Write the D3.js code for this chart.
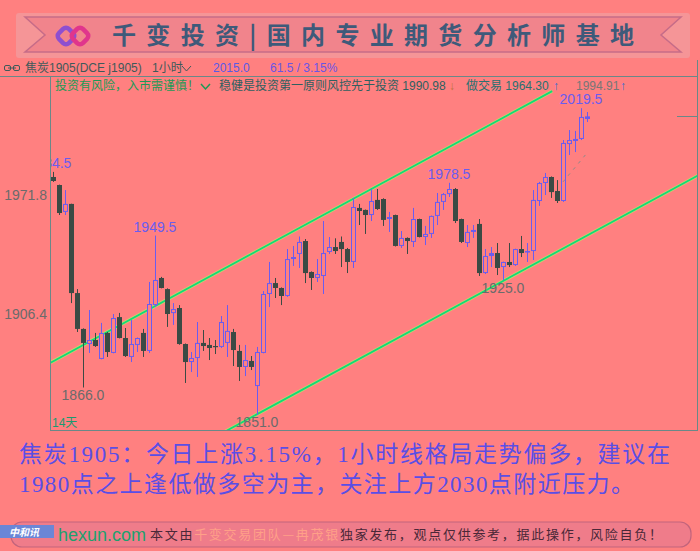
<!DOCTYPE html>
<html>
<head>
<meta charset="utf-8">
<script src="https://cdn.jsdelivr.net/npm/d3@7"></script>
<style>
html, body { margin: 0; padding: 0; background: #ff8080; }
svg { display: block; }
</style>
</head>
<body>
<svg id="chart"></svg>
<script>
// hourly candles, coke j1905
var opens = [1981.7, 1977.3, 1962.5, 1966.9, 1917.9, 1898.2, 1889.9, 1892.1, 1881.7, 1896.0,
  1885.0, 1904.7, 1893.2, 1882.8, 1889.4, 1896.0, 1886.1, 1911.3, 1926.2, 1920.1,
  1906.9, 1909.7, 1889.9, 1880.0, 1882.2, 1890.5, 1889.4, 1888.8, 1888.3, 1890.5,
  1896.5, 1886.1, 1877.3, 1880.6, 1866.8, 1885.0, 1917.4, 1923.4, 1920.7, 1916.3,
  1936.6, 1939.4, 1946.5, 1929.5, 1926.2, 1927.3, 1940.5, 1943.2, 1946.0, 1942.1,
  1935.0, 1964.7, 1963.6, 1960.8, 1969.1, 1969.6, 1958.6, 1960.8, 1943.8, 1948.2,
  1946.0, 1958.6, 1948.7, 1950.4, 1960.3, 1968.0, 1972.3, 1975.1, 1958.6, 1945.4,
  1951.5, 1955.9, 1928.9, 1938.3, 1939.9, 1932.2, 1935.0, 1933.3, 1942.1, 1940.5,
  1941.0, 1968.5, 1978.4, 1981.7, 1974.0, 1968.5, 1999.8, 2001.5, 2002.6, 2013.6];
var highs = [1984.5, 1977.5, 1974.5, 1967.0, 1920.1, 1898.5, 1908.6, 1896.0, 1901.5, 1896.5,
  1906.4, 1907.0, 1898.7, 1903.1, 1893.5, 1898.2, 1924.0, 1949.5, 1926.8, 1920.5,
  1912.4, 1911.3, 1890.2, 1885.5, 1902.0, 1897.6, 1893.2, 1892.1, 1905.3, 1911.3,
  1898.2, 1889.4, 1889.4, 1883.3, 1888.3, 1919.0, 1935.0, 1926.2, 1921.0, 1942.1,
  1943.8, 1949.0, 1947.6, 1929.8, 1936.6, 1957.5, 1948.7, 1948.0, 1949.0, 1942.7,
  1970.2, 1966.9, 1963.8, 1975.1, 1975.1, 1970.0, 1962.5, 1961.0, 1952.0, 1948.5,
  1964.7, 1958.8, 1954.8, 1960.5, 1972.9, 1972.9, 1978.5, 1975.6, 1958.8, 1955.3,
  1955.3, 1958.6, 1942.1, 1943.2, 1945.4, 1935.2, 1945.4, 1942.3, 1949.3, 1945.4,
  1974.5, 1979.0, 1983.9, 1982.0, 1980.0, 2002.0, 2007.5, 2007.0, 2019.5, 2017.4];
var lows = [1979.0, 1960.8, 1960.8, 1912.4, 1896.5, 1866.0, 1885.0, 1888.3, 1881.5, 1882.8,
  1884.8, 1893.0, 1882.8, 1880.0, 1885.5, 1882.8, 1885.0, 1910.2, 1920.5, 1899.3,
  1900.4, 1889.5, 1868.5, 1874.5, 1871.8, 1886.1, 1881.1, 1884.4, 1887.7, 1882.8,
  1877.8, 1869.6, 1872.3, 1875.6, 1851.0, 1884.8, 1910.2, 1915.2, 1911.3, 1915.8,
  1932.8, 1931.7, 1923.4, 1919.6, 1924.0, 1917.4, 1939.4, 1939.4, 1932.2, 1928.9,
  1931.7, 1955.3, 1950.4, 1957.5, 1963.6, 1954.8, 1951.5, 1943.5, 1942.7, 1939.4,
  1943.2, 1948.5, 1944.3, 1948.2, 1955.3, 1963.6, 1970.7, 1956.4, 1945.4, 1943.2,
  1948.2, 1927.3, 1928.4, 1932.2, 1927.8, 1925.0, 1932.2, 1932.8, 1937.7, 1935.0,
  1936.1, 1965.8, 1971.8, 1970.2, 1967.4, 1968.0, 1993.8, 1995.4, 2002.0, 2011.9];
var closes = [1979.5, 1961.9, 1966.9, 1917.9, 1898.2, 1890.5, 1892.1, 1888.8, 1896.0, 1885.5,
  1904.2, 1893.2, 1883.3, 1889.9, 1893.2, 1886.1, 1911.9, 1925.1, 1920.7, 1906.4,
  1909.1, 1889.9, 1880.0, 1882.2, 1890.5, 1888.8, 1887.7, 1888.8, 1902.0, 1897.1,
  1886.6, 1877.3, 1881.1, 1877.3, 1885.5, 1917.4, 1923.4, 1920.7, 1916.3, 1936.6,
  1937.7, 1946.0, 1928.9, 1926.2, 1928.4, 1939.9, 1943.2, 1941.0, 1942.1, 1935.0,
  1965.2, 1963.0, 1960.8, 1968.5, 1964.1, 1958.1, 1959.7, 1943.8, 1948.2, 1946.5,
  1958.6, 1948.7, 1950.4, 1960.3, 1968.0, 1972.3, 1975.1, 1957.5, 1946.0, 1951.5,
  1952.6, 1928.9, 1938.3, 1939.9, 1931.7, 1935.0, 1933.3, 1942.1, 1939.9, 1941.0,
  1969.1, 1978.4, 1981.7, 1973.4, 1968.5, 2000.4, 2002.0, 2002.6, 2014.7, 2015.0];

var yTicks = [1906.4, 1971.8];
var highMarks = [0, 17, 66, 88];   // candles with a high label
var lowMarks = [5, 34, 75];        // candles with a low label

// gray dashed indicator at the end
var maIdx = [85, 86, 87, 88, 89];
var maVals = [1979.0, 1983.0, 1986.9, 1990.9, 1994.91];

// channel lines, [candle index, price]
var chanUpper = [[-0.5, 1879.5], [83.2, 2028.9]];
var chanLower = [[20, 1826.3], [110, 1987.0]];

var lastPrice = 2015.0;
var header1 = ["焦炭1905(DCE j1905)", "1小时", "2015.0", "61.5 / 3.15%"];
var header2 = ["投资有风险，入市需谨慎！", "稳健是投资第一原则风控先于投资 1990.98", "做交易 1964.30", "1994.91"];
var bannerText = "千变投资|国内专业期货分析师基地";
var comment1 = "焦炭1905：今日上涨3.15%，1小时线格局走势偏多，建议在";
var comment2 = "1980点之上逢低做多空为主，关注上方2030点附近压力。";

var bg = "#ff8080",
    upColor = "#6a5cf0",
    downColor = "#3b4a44",
    frame = "#6a8888",
    cjk = "'Liberation Sans','Noto Sans CJK SC',sans-serif";

var svg = d3.select("#chart")
    .attr("width", 700)
    .attr("height", 551);

svg.append("rect").attr("width", 700).attr("height", 551).attr("fill", bg);

// ---- banner
var banner = svg.append("g");
banner.append("rect")
    .attr("x", 16).attr("y", 13).attr("width", 674).attr("height", 45)
    .attr("rx", 3)
    .attr("fill", "#f59597");
banner.append("polygon")
    .attr("points", "25,17 681,17 661,35 681,52 25,52 45,35")
    .attr("fill", "#f1848c")
    .attr("stroke", "#c66c88")
    .attr("stroke-width", 1.5);
[[66, "#8e4fd0"], [80, "#e0358c"]].forEach(function(d) {
  banner.append("rect")
      .attr("x", -7).attr("y", -7).attr("width", 14).attr("height", 14)
      .attr("rx", 4)
      .attr("transform", "translate(" + d[0] + ",36) rotate(45)")
      .attr("fill", "none")
      .attr("stroke", d[1])
      .attr("stroke-width", 4.5);
});
banner.append("text")
    .attr("x", 112).attr("y", 44)
    .attr("textLength", 522)
    .attr("lengthAdjust", "spacing")
    .style("font-family", "'Noto Sans CJK SC',sans-serif")
    .style("font-size", "24px")
    .style("font-weight", 700)
    .attr("fill", "#3e5a7a")
    .text(bannerText);

// ---- header rows
var head = svg.append("g").style("font-family", cjk).style("font-size", "12px");
head.append("rect").attr("x", 4.5).attr("y", 65.5).attr("width", 6).attr("height", 5).attr("rx", 1.5)
    .attr("fill", "none").attr("stroke", "#3e5a5a");
head.append("rect").attr("x", 13.5).attr("y", 65.5).attr("width", 6).attr("height", 5).attr("rx", 1.5)
    .attr("fill", "none").attr("stroke", "#3e5a5a");
head.append("line").attr("x1", 8).attr("x2", 16).attr("y1", 68).attr("y2", 68).attr("stroke", "#3e5a5a");

head.append("text").attr("x", 25).attr("y", 72).attr("fill", "#3e5a5a").text(header1[0]);
head.append("text").attr("x", 152).attr("y", 72).attr("fill", "#3e5a5a").text(header1[1]);
head.append("path").attr("d", "M182,66 L186.5,71 L191,66").attr("fill", "none").attr("stroke", "#3e5a5a");
head.append("text").attr("x", 213).attr("y", 72).attr("fill", "#5a5ae6").text(header1[2]);
head.append("text").attr("x", 270).attr("y", 72).attr("fill", "#6a55e6").text(header1[3]);

head.append("text").attr("x", 55).attr("y", 90).attr("fill", "#1c9a55").text(header2[0]);
head.append("path").attr("d", "M201,84 L205.5,89 L210,84").attr("fill", "none").attr("stroke", "#1c9a55").attr("stroke-width", 1.5);
head.append("text").attr("x", 219).attr("y", 90).attr("fill", "#2f6060").text(header2[1]);
head.append("text").attr("x", 449).attr("y", 90).attr("fill", "#c0703c").text("↓");
head.append("text").attr("x", 466).attr("y", 90).attr("fill", "#2a7070").text(header2[2]);
head.append("text").attr("x", 553).attr("y", 90).attr("fill", "#3a6ad0").text("↑");
head.append("text").attr("x", 576).attr("y", 90).attr("fill", "#777777").text(header2[3]);
head.append("text").attr("x", 620).attr("y", 90).attr("fill", "#3a6ad0").text("↑");

// ---- frame
svg.append("line").attr("x1", 0).attr("x2", 697).attr("y1", 76.5).attr("y2", 76.5).attr("stroke", frame);
svg.append("line").attr("x1", 50.5).attr("x2", 50.5).attr("y1", 76).attr("y2", 430).attr("stroke", frame);
svg.append("line").attr("x1", 50).attr("x2", 697).attr("y1", 430.5).attr("y2", 430.5).attr("stroke", frame);
svg.append("line").attr("x1", 697.5).attr("x2", 697.5).attr("y1", 60).attr("y2", 431).attr("stroke", frame);

// ---- scales
var x = d3.scaleLinear()
    .domain([0, 89])
    .range([53, 587]);
var y = d3.scaleLinear()
    .domain([1906.4, 1971.8])
    .range([314, 195]);

var yAxis = svg.append("g")
    .attr("transform", "translate(47,0)")
    .call(d3.axisLeft(y).tickValues(yTicks).tickSize(0).tickPadding(0).tickFormat(d3.format(".1f")));
yAxis.select(".domain").remove();
yAxis.selectAll("text")
    .attr("fill", "#6b6b6b")
    .style("font-family", "'Liberation Sans Narrow','Liberation Sans',sans-serif")
    .style("font-size", "14px");

svg.append("defs").append("clipPath").attr("id", "plot")
    .append("rect").attr("x", 51).attr("y", 77).attr("width", 646).attr("height", 353);

var plot = svg.append("g").attr("clip-path", "url(#plot)");

// channel
var chanLine = d3.line()
    .x(function(d) { return x(d[0]); })
    .y(function(d) { return y(d[1]); });
[chanUpper, chanLower].forEach(function(seg) {
  plot.append("path").attr("d", chanLine(seg))
      .attr("fill", "none").attr("stroke", "#c8d86a").attr("stroke-width", 3.2);
  plot.append("path").attr("d", chanLine(seg))
      .attr("fill", "none").attr("stroke", "#12d878").attr("stroke-width", 1.8);
});

// candles
var idx = d3.range(opens.length);
var candle = plot.selectAll(".candle")
    .data(idx)
    .enter().append("g")
    .attr("class", "candle");

candle.append("line")
    .attr("x1", function(i) { return x(i) + 0.5; })
    .attr("x2", function(i) { return x(i) + 0.5; })
    .attr("y1", function(i) { return y(highs[i]); })
    .attr("y2", function(i) { return y(lows[i]); })
    .attr("stroke", function(i) { return closes[i] > opens[i] ? upColor : downColor; })
    .attr("stroke-width", 1);

candle.append("rect")
    .attr("x", function(i) { return closes[i] > opens[i] ? x(i) - 1.5 : x(i) - 2; })
    .attr("width", function(i) { return closes[i] > opens[i] ? 4 : 5; })
    .attr("y", function(i) {
      return closes[i] > opens[i] ? y(closes[i]) + 0.5 : y(opens[i]);
    })
    .attr("height", function(i) {
      if (closes[i] > opens[i]) return Math.max(0.5, y(opens[i]) - y(closes[i]) - 1);
      return Math.max(1.2, y(closes[i]) - y(opens[i]));
    })
    .attr("fill", function(i) {
      if (closes[i] > opens[i]) return (y(opens[i]) - y(closes[i]) < 3) ? upColor : bg;
      return downColor;
    })
    .attr("stroke", function(i) { return closes[i] > opens[i] ? upColor : "none"; })
    .attr("stroke-width", 1);

// indicator
plot.append("path")
    .datum(maIdx)
    .attr("d", d3.line()
      .x(function(i) { return x(i); })
      .y(function(i, k) { return y(maVals[k]); }))
    .attr("fill", "none")
    .attr("stroke", "#8a8a8a")
    .attr("stroke-width", 1)
    .style("stroke-dasharray", "3, 5");

// high / low labels
var labelFont = "'Liberation Sans Narrow','Liberation Sans',sans-serif";
plot.selectAll(".hi")
    .data(highMarks)
    .enter().append("text")
    .attr("class", "hi")
    .attr("x", function(i) { return x(i) - (i === 0 ? 3 : 0); })
    .attr("y", function(i) { return y(highs[i]) - 4; })
    .attr("text-anchor", "middle")
    .attr("fill", upColor)
    .style("font-family", labelFont)
    .style("font-size", "14px")
    .text(function(i) { return highs[i].toFixed(1); });

plot.selectAll(".lo")
    .data(lowMarks)
    .enter().append("text")
    .attr("class", "lo")
    .attr("x", function(i) { return x(i); })
    .attr("y", function(i) { return y(lows[i]) + 12.5; })
    .attr("text-anchor", "middle")
    .attr("fill", "#6b6b6b")
    .style("font-family", labelFont)
    .style("font-size", "14px")
    .text(function(i) { return lows[i].toFixed(1); });

// current price tick on the right
svg.append("line")
    .attr("x1", 677).attr("x2", 697)
    .attr("y1", Math.round(y(lastPrice)) + 0.5).attr("y2", Math.round(y(lastPrice)) + 0.5)
    .attr("stroke", frame);

svg.append("text")
    .attr("x", 52).attr("y", 427)
    .attr("fill", "#1a9a70")
    .style("font-family", cjk)
    .style("font-size", "12px")
    .text("14天");

// ---- comment
var comment = svg.append("g")
    .attr("fill", "#5a4ee6")
    .style("font-family", "'Liberation Serif','Noto Sans CJK SC',serif")
    .style("font-size", "23px");
comment.append("text").attr("x", 19).attr("y", 462)
    .attr("textLength", 651).attr("lengthAdjust", "spacing").text(comment1);
comment.append("text").attr("x", 19).attr("y", 492)
    .attr("textLength", 615).attr("lengthAdjust", "spacing").text(comment2);

// ---- footer
svg.append("rect")
    .attr("x", 11).attr("y", 522).attr("width", 680).attr("height", 25).attr("rx", 11)
    .attr("fill", "#ef7c8a")
    .attr("stroke", "#c2647c")
    .attr("stroke-width", 1.2);

var note = svg.append("text")
    .attr("x", 150).attr("y", 539)
    .attr("textLength", 512).attr("lengthAdjust", "spacing")
    .style("font-family", "'Noto Sans CJK SC',sans-serif")
    .style("font-size", "13px")
    .attr("fill", "#4a2838");
note.append("tspan").text("本文由");
note.append("tspan").attr("fill", "#ffa088").text("千变交易团队—冉茂银");
note.append("tspan").text("独家发布，观点仅供参考，据此操作，风险自负！");

svg.append("rect").attr("x", 0).attr("y", 525).attr("width", 54).attr("height", 13).attr("fill", "#6b86d6");
svg.append("text").attr("x", 9).attr("y", 536)
    .attr("fill", "#ffffff")
    .style("font-family", "'Noto Sans CJK SC',sans-serif")
    .style("font-size", "10px").style("font-weight", 700).style("font-style", "italic")
    .text("中和讯");
svg.append("text").attr("x", 58).attr("y", 541)
    .attr("fill", "#1ea06e")
    .style("font-family", "'Liberation Sans',sans-serif")
    .style("font-size", "18px")
    .text("hexun.com");
</script>
</body>
</html>
